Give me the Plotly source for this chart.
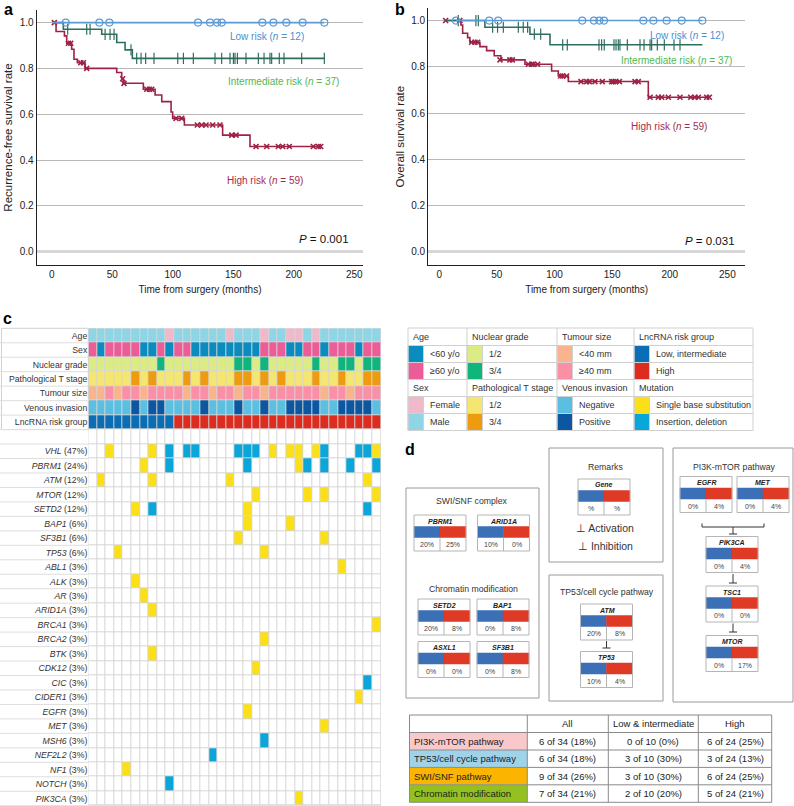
import plotly.graph_objects as go

W, H = 794, 806
FONT = "Liberation Sans, Arial, Helvetica, sans-serif"

# ---------------- panel a : recurrence-free survival ----------------
a_low_t = [1, 225.2]
a_low_s = [1.0, 1.0]
a_low_ct = [11.6, 39.4, 47.6, 120.9, 130.8, 136.6, 140.4, 174.0, 183.1, 193.8, 207.3, 225.2]
a_low_cs = [1.0, 1.0, 1.0, 1.0, 1.0, 1.0, 1.0, 1.0, 1.0, 1.0, 1.0, 1.0]

a_int_t = [1, 9.6, 41.3, 53.7, 60.6, 66.6, 225.2]
a_int_s = [1.0, 0.971, 0.949, 0.913, 0.881, 0.844, 0.844]
a_int_ct = [13.2, 28.9, 31.7, 44.1, 48.2, 51.5, 65.5, 70.2, 73.8, 77.6, 84.5, 104.1, 108.8, 117.0,
            134.9, 140.4, 147.3, 150.1, 151.4, 153.4, 160.5, 170.7, 175.4, 180.3, 181.7, 188.0,
            191.9, 206.5, 225.2]
a_int_cs = [0.971, 0.971, 0.971, 0.949, 0.949, 0.949, 0.881, 0.844, 0.844, 0.844, 0.844, 0.844,
            0.844, 0.844, 0.844, 0.844, 0.844, 0.844, 0.844, 0.844, 0.844, 0.844, 0.844, 0.844,
            0.844, 0.844, 0.844, 0.844, 0.844]

a_hi_t = [1, 3.6, 10.5, 12.4, 16.5, 18.4, 21.2, 27.5, 53.7, 57.8, 59.2, 75.7, 85.4, 90.9, 98.6,
          99.9, 109.6, 141.2, 163.8, 223.0]
a_hi_s = [1.0, 0.961, 0.942, 0.910, 0.884, 0.840, 0.825, 0.800, 0.782, 0.755, 0.735, 0.709,
          0.684, 0.655, 0.610, 0.582, 0.553, 0.509, 0.459, 0.459]
a_hi_ct = [2.2, 13.8, 15.7, 24.0, 26.2, 28.9, 58.6, 59.7, 78.5, 80.7, 82.6, 102.7, 107.4, 120.3,
           123.9, 127.5, 133.0, 139.0, 148.7, 152.3, 168.8, 177.6, 187.2, 190.8, 196.3, 216.1,
           220.3, 222.2]
a_hi_cs = [1.0, 0.910, 0.910, 0.825, 0.825, 0.800, 0.755, 0.735, 0.709, 0.709, 0.709, 0.582,
           0.582, 0.553, 0.553, 0.553, 0.553, 0.553, 0.509, 0.509, 0.459, 0.459, 0.459, 0.459,
           0.459, 0.459, 0.459, 0.459]

# ---------------- panel b : overall survival ----------------
b_low_t = [14.5, 228.3]
b_low_s = [1.0, 1.0]
b_low_ct = [14.5, 43.4, 51.2, 124.1, 134.2, 138.9, 142.9, 177.1, 185.8, 197.3, 210.4, 228.3]
b_low_cs = [1.0, 1.0, 1.0, 1.0, 1.0, 1.0, 1.0, 1.0, 1.0, 1.0, 1.0, 1.0]

b_int_t = [5.5, 39.6, 78.7, 96.1, 228.3]
b_int_s = [1.0, 0.971, 0.941, 0.895, 0.895]
b_int_ct = [16.5, 31.8, 33.9, 46.3, 50.6, 55.6, 68.6, 72.9, 76.7, 82.5, 88.0, 107.1, 111.1, 138.6,
            140.9, 143.2, 151.6, 153.4, 155.4, 156.8, 163.2, 174.2, 177.7, 182.9, 184.3, 189.2,
            195.3, 203.7, 208.9]
b_int_cs = [1.0, 1.0, 1.0, 0.971, 0.971, 0.971, 0.971, 0.971, 0.971, 0.941, 0.941, 0.895, 0.895,
            0.895, 0.895, 0.895, 0.895, 0.895, 0.895, 0.895, 0.895, 0.895, 0.895, 0.895, 0.895,
            0.895, 0.895, 0.895, 0.895]

b_hi_t = [5.5, 18.8, 20.3, 24.6, 26.6, 35.3, 41.1, 47.7, 53.5, 74.4, 97.5, 103.3, 112.0, 181.4, 234.4]
b_hi_s = [1.0, 0.981, 0.945, 0.926, 0.906, 0.887, 0.870, 0.848, 0.830, 0.811, 0.782, 0.760,
          0.736, 0.668, 0.668]
b_hi_ct = [5.5, 17.9, 28.1, 31.0, 33.3, 52.7, 61.3, 63.4, 77.3, 80.2, 81.6, 85.4, 105.3, 107.1,
           110.5, 123.0, 127.9, 130.2, 135.1, 141.5, 149.6, 151.0, 153.1, 156.3, 169.9, 172.7,
           182.9, 190.1, 193.0, 198.8, 208.9, 218.2, 221.9, 224.8, 232.1, 234.4]
b_hi_cs = [1.0, 1.0, 0.906, 0.906, 0.906, 0.830, 0.830, 0.830, 0.811, 0.811, 0.811, 0.811, 0.760,
           0.760, 0.760, 0.736, 0.736, 0.736, 0.736, 0.736, 0.736, 0.736, 0.736, 0.736, 0.736,
           0.736, 0.668, 0.668, 0.668, 0.668, 0.668, 0.668, 0.668, 0.668, 0.668, 0.668]

# ---------------- panel c : clinical tracks (34 patients) ----------------
clin_rows = ["Age", "Sex", "Nuclear grade", "Pathological T stage", "Tumour size",
             "Venous invasion", "LncRNA risk group"]
age_flag = [0, 0, 0, 0, 0, 0, 0, 0, 0, 1, 0, 0, 0, 0, 0, 0, 1, 0, 0, 0,
            1, 0, 0, 1, 1, 0, 1, 0, 0, 0, 0, 0, 0, 0]
sex_flag = [0, 1, 0, 0, 0, 0, 1, 1, 0, 1, 0, 0, 1, 1, 1, 1, 1, 1, 1, 1,
            0, 0, 0, 1, 1, 0, 0, 1, 0, 0, 0, 1, 0, 0]
grade_flag = [0, 0, 0, 0, 0, 0, 0, 0, 1, 0, 0, 0, 0, 0, 0, 0, 0, 1, 1, 0,
              1, 0, 0, 0, 0, 0, 1, 0, 0, 1, 1, 0, 1, 1]
tstage_flag = [0, 0, 0, 0, 0, 1, 0, 1, 0, 0, 0, 1, 0, 1, 0, 0, 0, 1, 1, 0,
               1, 0, 1, 0, 0, 0, 1, 0, 0, 1, 0, 0, 1, 1]
small_tumour_flag = [1, 1, 0, 1, 0, 0, 1, 0, 0, 0, 0, 1, 0, 0, 1, 0, 0, 1, 0, 0,
                     1, 0, 0, 0, 0, 0, 0, 1, 0, 0, 1, 0, 0, 0]
venous_flag = [0, 0, 0, 0, 0, 1, 0, 1, 1, 0, 0, 0, 0, 1, 0, 0, 0, 1, 0, 0,
               1, 0, 0, 1, 1, 1, 1, 0, 0, 1, 1, 1, 1, 0]
risk_flag = [0, 0, 0, 0, 0, 0, 0, 0, 0, 0, 1, 1, 1, 1, 1, 1, 1, 1, 1, 1,
             1, 1, 1, 1, 1, 1, 1, 1, 1, 1, 1, 1, 1, 1]

# ---------------- panel c : mutations ----------------
mut_genes = ["VHL", "PBRM1", "ATM", "MTOR", "SETD2", "BAP1", "SF3B1", "TP53", "ABL1", "ALK", "AR",
             "ARID1A", "BRCA1", "BRCA2", "BTK", "CDK12", "CIC", "CIDER1", "EGFR", "MET", "MSH6",
             "NEF2L2", "NF1", "NOTCH", "PIK3CA"]
mut_pct = [47, 24, 12, 12, 12, 6, 6, 6, 3, 3, 3, 3, 3, 3, 3, 3, 3, 3, 3, 3, 3, 3, 3, 3, 3]
mut_sbs = [[2, 7, 21, 23, 24, 26, 33], [6, 24], [1, 7, 16, 32], [19, 25, 27, 33], [5, 18], [18, 23],
           [17, 27], [3, 20], [29], [5], [6], [7], [33], [20], [7], [19], [], [31], [18], [27], [],
           [], [4], [], [24]]
mut_indel = [[9, 11, 12, 17, 18, 19, 27, 31, 32], [9, 18, 25, 27, 30, 33], [], [], [7, 32], [], [],
             [], [], [], [], [], [], [], [], [], [32], [], [], [], [20], [14], [], [9], []]

# ---------------- panel d ----------------
d_genes = ["PBRM1", "ARID1A", "SETD2", "BAP1", "ASXL1", "SF3B1", "Gene", "ATM", "TP53",
           "EGFR", "MET", "PIK3CA", "TSC1", "MTOR"]
d_low_pct = ["20%", "10%", "20%", "0%", "0%", "0%", "%", "20%", "10%", "0%", "0%", "0%", "0%", "0%"]
d_high_pct = ["25%", "0%", "8%", "8%", "0%", "8%", "%", "8%", "4%", "4%", "4%", "4%", "0%", "17%"]

tbl_header = ["", "All", "Low & intermediate", "High"]
tbl_pathway = ["PI3K-mTOR pathway", "TP53/cell cycle pathway", "SWI/SNF pathway", "Chromatin modification"]
tbl_all = ["6 of 34 (18%)", "6 of 34 (18%)", "9 of 34 (26%)", "7 of 34 (21%)"]
tbl_low = ["0 of 10 (0%)", "3 of 10 (30%)", "3 of 10 (30%)", "2 of 10 (20%)"]
tbl_high = ["6 of 24 (25%)", "3 of 24 (13%)", "6 of 24 (25%)", "5 of 24 (21%)"]
tbl_colors = ["#f9c8cb", "#9fd3ea", "#fbb400", "#94c11f"]

# ---------------- colours ----------------
C = ["#ffffff", "#8ed6e6", "#f0b9ca", "#0b8cbf", "#ec5d97", "#dcec84", "#0fb57a", "#f4e66f",
     "#ef9b0f", "#f9b48d", "#fa8fa6", "#5bbfe2", "#0c56a2", "#0b6db5", "#dc2b1f", "#fce017", "#0aa6d9"]
BLUE_L, GREEN_L, RED_L = "#5b9bd5", "#2f6e5f", "#9e2146"

shapes, ann = [], []


def X(p):
    return p / W


def Y(p):
    return 1 - p / H


def line(x0, y0, x1, y1, color="#c8c8c8", w=1):
    shapes.append(dict(type="line", xref="paper", yref="paper", x0=X(x0), y0=Y(y0), x1=X(x1),
                       y1=Y(y1), line=dict(color=color, width=w)))


def rect(x0, y0, x1, y1, fill="rgba(0,0,0,0)", color="#c8c8c8", w=1):
    shapes.append(dict(type="rect", xref="paper", yref="paper", x0=X(x0), y0=Y(y0), x1=X(x1),
                       y1=Y(y1), fillcolor=fill, line=dict(color=color, width=w)))


def text(x, y, s, size=9, color="#333333", anchor="center"):
    ann.append(dict(xref="paper", yref="paper", x=X(x), y=Y(y), text=s, showarrow=False,
                    xanchor=anchor, yanchor="middle", font=dict(size=size, color=color, family=FONT)))


fig = go.Figure()


def km(t, s, ct, cs, color, symbol, size, xa, ya, lw=1.2):
    fig.add_trace(go.Scatter(x=t, y=s, mode="lines", line=dict(color=color, width=1.6, shape="hv"),
                             xaxis=xa, yaxis=ya, hoverinfo="skip"))
    fig.add_trace(go.Scatter(x=ct, y=cs, mode="markers", xaxis=xa, yaxis=ya, hoverinfo="skip",
                             marker=dict(symbol=symbol, size=size, color=color,
                                         line=dict(color=color, width=lw))))


km(a_hi_t, a_hi_s, a_hi_ct, a_hi_cs, RED_L, "x-thin-open", 5, "x", "y", 1.6)
km(a_int_t, a_int_s, a_int_ct, a_int_cs, GREEN_L, "line-ns-open", 8, "x", "y")
km(a_low_t, a_low_s, a_low_ct, a_low_cs, BLUE_L, "circle-open", 7, "x", "y")
km(b_hi_t, b_hi_s, b_hi_ct, b_hi_cs, RED_L, "x-thin-open", 5, "x2", "y2", 1.6)
km(b_int_t, b_int_s, b_int_ct, b_int_cs, GREEN_L, "line-ns-open", 8, "x2", "y2")
km(b_low_t, b_low_s, b_low_ct, b_low_cs, BLUE_L, "circle-open", 7, "x2", "y2")

# ---------------- heatmap matrix ----------------
z = []
z.append([1 + v for v in age_flag])
z.append([3 if v else 4 for v in sex_flag])
z.append([5 + v for v in grade_flag])
z.append([7 + v for v in tstage_flag])
z.append([9 if v else 10 for v in small_tumour_flag])
z.append([11 + v for v in venous_flag])
z.append([13 + v for v in risk_flag])
z.append([0] * 34)
for sbs, ind in zip(mut_sbs, mut_indel):
    row = [0] * 34
    for c in sbs:
        row[c] = 15
    for c in ind:
        row[c] = 16
    z.append(row)

n = len(C)
cscale = []
for k, col in enumerate(C):
    cscale.append([k / n, col])
    cscale.append([(k + 1) / n, col])

row_labels = clin_rows + [""] + [f"<i>{g}</i> ({p}%)" for g, p in zip(mut_genes, mut_pct)]
fig.add_trace(go.Heatmap(z=z, x=list(range(34)), y=list(range(len(z))), colorscale=cscale,
                         zmin=-0.5, zmax=n - 0.5, xgap=1, ygap=1, showscale=False,
                         hoverinfo="skip", xaxis="x3", yaxis="y3"))
shapes.append(dict(type="rect", xref="x3 domain", yref="y3 domain", x0=0, x1=1, y0=0, y1=1,
                   fillcolor="#d6d6d6", line=dict(width=0), layer="below"))

# label column grid
HM_TOP, ROW_H = 328.3, 14.467
rect(1.5, HM_TOP, 88.3, HM_TOP + 7 * ROW_H, color="#d0d0d0")
for i in range(1, 34):
    yy = HM_TOP + i * ROW_H
    line(0, yy, 88.3, yy, color="#dedede")

# ---------------- KM annotations ----------------
text(266.7, 36.7, "Low risk (<i>n</i> = 12)", 10, "#4a8fd1")
text(283.3, 81, "Intermediate risk (<i>n</i> = 37)", 10, "#52b84f")
text(265, 181, "High risk (<i>n</i> = 59)", 10, "#a52a50")
text(351, 239, "<i>P</i> = 0.001", 11.5, "#111111", "right")
text(686.7, 36, "Low risk (<i>n</i> = 12)", 10, "#4a8fd1")
text(676.7, 60, "Intermediate risk (<i>n</i> = 37)", 10, "#52b84f")
text(669, 126, "High risk (<i>n</i> = 59)", 10, "#a52a50")
text(737, 240.7, "<i>P</i> = 0.031", 11.5, "#111111", "right")

for lab, x, y in [("a", 8, 9), ("b", 400, 9), ("c", 7, 318), ("d", 410, 449)]:
    text(x, y, f"<b>{lab}</b>", 16, "#000000")

# ---------------- legend table of panel c ----------------
gx = [408, 467, 557, 634, 753]
ry = [328, 345.5, 362.5, 379.5, 396.5, 413.5, 430.5]
leg_blocks = [
    [("Age", ["&lt;60 y/o", "≥60 y/o"], [C[3], C[4]]),
     ("Nuclear grade", ["1/2", "3/4"], [C[5], C[6]]),
     ("Tumour size", ["&lt;40 mm", "≥40 mm"], [C[9], C[10]]),
     ("LncRNA risk group", ["Low, intermediate", "High"], [C[13], C[14]])],
    [("Sex", ["Female", "Male"], [C[2], C[1]]),
     ("Pathological T stage", ["1/2", "3/4"], [C[7], C[8]]),
     ("Venous invasion", ["Negative", "Positive"], [C[11], C[12]]),
     ("Mutation", ["Single base substitution", "Insertion, deletion"], [C[15], C[16]])],
]
for b, block in enumerate(leg_blocks):
    for g, (head, items, cols) in enumerate(block):
        x0 = gx[g]
        r0 = 3 * b
        text(x0 + 2.5, (ry[r0] + ry[r0 + 1]) / 2, head, 9, "#333333", "left")
        for j in range(2):
            ya, yb = ry[r0 + 1 + j], ry[r0 + 2 + j]
            rect(x0, ya, x0 + 15.5, yb, fill=cols[j], color="#d0d0d0")
            text(x0 + 19.5, (ya + yb) / 2, items[j], 9, "#333333", "left")
rect(gx[0], ry[0], gx[-1], ry[-1], color="#d0d0d0")
for yy in ry[1:-1]:
    line(gx[0], yy, gx[-1], yy, color="#d0d0d0")
for xx in gx[1:-1]:
    line(xx, ry[0], xx, ry[-1], color="#d0d0d0")

# ---------------- panel d pathway boxes ----------------
BOX = "#9a9a9a"
rect(406, 488, 539, 698, color=BOX)
text(472, 501, "SWI/SNF complex", 8.7)
text(473, 589, "Chromatin modification", 8.7)
rect(549, 448, 663, 562, color=BOX)
text(605, 467, "Remarks", 8.7)
text(605, 528.3, "⊥ Activation", 10.5)
text(605, 545.7, "⊥ Inhibition", 10.5)
rect(549, 575, 663, 701, color=BOX)
text(606.5, 592, "TP53/cell cycle pathway", 8.7)
rect(673, 448, 793, 702, color=BOX)
text(734, 467, "PI3K-mTOR pathway", 8.7)

d_pos = [(414, 515), (477.5, 515), (418, 599), (477, 599), (418, 641.5), (477, 641.5),
         (578, 479), (580.5, 604), (580.5, 651.5), (680, 476.5), (737, 476.5),
         (706, 536.5), (706, 586), (706, 635.5)]
for name, (x0, y0), lo, hi in zip(d_genes, d_pos, d_low_pct, d_high_pct):
    w = 52
    xm = x0 + w / 2
    rect(x0, y0 + 11.5, xm, y0 + 22.5, fill="#3b6fb6", color="#3b6fb6", w=0.5)
    rect(xm, y0 + 11.5, x0 + w, y0 + 22.5, fill="#de3a26", color="#de3a26", w=0.5)
    rect(x0, y0, x0 + w, y0 + 36, color="#b5b5b5")
    line(xm, y0 + 22.5, xm, y0 + 36, color="#b5b5b5")
    text(xm, y0 + 6, f"<b><i>{name}</i></b>", 7, "#222222")
    text(x0 + w / 4, y0 + 29.5, lo, 7, "#444444")
    text(x0 + 3 * w / 4, y0 + 29.5, hi, 7, "#444444")


def inhib(x, ya, yb):
    line(x, ya, x, yb, color="#333333", w=1)
    line(x - 4, yb, x + 4, yb, color="#333333", w=1)


inhib(606.5, 641, 648)
line(702, 523.5, 702, 527, color="#333333")
line(702, 527, 764, 527, color="#333333")
line(764, 523.5, 764, 527, color="#333333")
inhib(733, 527, 534)
inhib(733, 574, 583)
inhib(733, 623.5, 632)

# ---------------- pathway table (drawn as a grid) ----------------
tx = [409.5, 527.3, 608.3, 698.3, 771.7]
ty = [715, 732.5, 750, 767.4, 784.8, 802.3]
for r, col in enumerate(tbl_colors):
    rect(tx[0], ty[r + 1], tx[1], ty[r + 2], fill=col, color="#8a8a8a", w=0)
rect(tx[0], ty[0], tx[-1], ty[-1], color="#8a8a8a")
for yy in ty[1:-1]:
    line(tx[0], yy, tx[-1], yy, color="#8a8a8a")
for xx in tx[1:-1]:
    line(xx, ty[0], xx, ty[-1], color="#8a8a8a")
columns = [tbl_pathway, tbl_all, tbl_low, tbl_high]
for c, head in enumerate(tbl_header):
    if head:
        text((tx[c] + tx[c + 1]) / 2, (ty[0] + ty[1]) / 2, head, 9.5, "#222222")
    for r, val in enumerate(columns[c]):
        ym = (ty[r + 1] + ty[r + 2]) / 2
        if c == 0:
            text(tx[0] + 2.5, ym, val, 9.5, "#222222", "left")
        else:
            text((tx[c] + tx[c + 1]) / 2, ym, val, 9.5, "#222222")

# ---------------- axes ----------------
km_x = dict(showline=True, linecolor="#222222", linewidth=1.2, showgrid=False, zeroline=False,
            tickvals=[0, 50, 100, 150, 200, 250], ticks="", tickfont=dict(size=10, color="#222222"),
            title=dict(text="Time from surgery (months)", font=dict(size=10, color="#222222"), standoff=6))
km_y = dict(showline=True, linecolor="#222222", linewidth=1.2, showgrid=True, gridcolor="#b8b8b8",
            gridwidth=1.2, zeroline=True, zerolinecolor="#d6d6d6", zerolinewidth=3,
            tickvals=[0, 0.2, 0.4, 0.6, 0.8, 1.0], tickformat=".1f", ticks="",
            tickfont=dict(size=10, color="#222222"))

fig.update_layout(
    width=W, height=H, autosize=False, margin=dict(l=0, r=0, t=0, b=0),
    paper_bgcolor="white", plot_bgcolor="white", showlegend=False,
    font=dict(family=FONT, color="#222222"),
    xaxis=dict(km_x, domain=[X(36.7), X(363.3)], range=[-12.4, 257.4], anchor="y"),
    yaxis=dict(km_y, domain=[Y(265), Y(10)], range=[-0.058, 1.055], anchor="x",
               title=dict(text="Recurrence-free survival rate", font=dict(size=11.5, color="#222222"),
                          standoff=4)),
    xaxis2=dict(km_x, domain=[X(428.3), X(745)], range=[-9.5, 265.3], anchor="y2"),
    yaxis2=dict(km_y, domain=[Y(265), Y(8.3)], range=[-0.0577, 1.053], anchor="x2",
                title=dict(text="Overall survival rate", font=dict(size=11.5, color="#222222"),
                           standoff=4)),
    xaxis3=dict(domain=[X(88.3), X(381)], range=[-0.5, 33.5], anchor="y3", visible=False),
    yaxis3=dict(domain=[Y(805.7), Y(328.3)], range=[32.5, -0.5], anchor="x3",
                tickvals=list(range(len(row_labels))), ticktext=row_labels, ticks="",
                showgrid=False, zeroline=False, tickfont=dict(size=8.7, color="#333333")),
    shapes=shapes, annotations=ann,
)

# the page body has a default 8px margin; drop it so the figure fills the window exactly
fig.write_html("out.html", config={"displayModeBar": False},
               post_script="document.body.style.margin='0';")
